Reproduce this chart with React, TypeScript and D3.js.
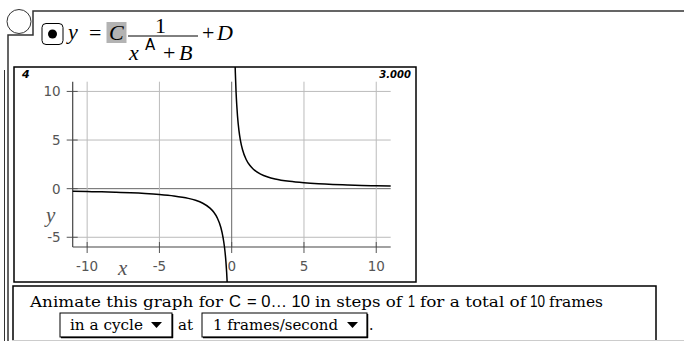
import React from "react";
import * as d3 from "d3";

// values
const xTicks = [-10, -5, 0, 5, 10];
const yTicks = [-5, 0, 5, 10];
const xDomain = [-11, 11];
const yDomain = [-6, 11];
const frameLabel = "4";
const cLabel = "3.000";

// curve samples, read from the plotted branches
const leftX = [-11, -10, -9, -8, -7, -6, -5, -4, -3, -2.5, -2, -1.5, -1.25, -1, -0.75, -0.6, -0.5, -0.4, -0.35, -0.3, -0.28];
const leftY = [-0.27, -0.3, -0.33, -0.38, -0.43, -0.5, -0.6, -0.75, -1, -1.2, -1.5, -2, -2.4, -3, -4, -5, -6, -7.5, -8.6, -10, -10.7];
const rightX = [0.22, 0.25, 0.3, 0.35, 0.4, 0.5, 0.6, 0.75, 1, 1.25, 1.5, 2, 2.5, 3, 4, 5, 6, 7, 8, 9, 10, 11];
const rightY = [13.6, 12, 10, 8.6, 7.5, 6, 5, 4, 3, 2.4, 2, 1.5, 1.2, 1, 0.75, 0.6, 0.5, 0.43, 0.38, 0.33, 0.3, 0.27];

const W = 684;
const H = 341;
const frame = { x: 14, y: 67, w: 402, h: 215 };
const plot = { left: 72.7, right: 390.7, top: 81.7, bottom: 247 };

const serif = "'Liberation Serif', 'DejaVu Serif', serif";
const wideSerif = "'DejaVu Serif', 'Liberation Serif', serif";
const sans = "'DejaVu Sans', 'Liberation Sans', sans-serif";
const narrowSans = "'Liberation Sans', 'DejaVu Sans', sans-serif";

function Arrow({ x, y }: { x: number; y: number }) {
  return <path d={`M${x},${y} L${x + 11},${y} L${x + 5.5},${y + 6} Z`} fill="#000" />;
}

function DropBox({ x, y, w, h }: { x: number; y: number; w: number; h: number }) {
  return (
    <g>
      <rect x={x} y={y} width={w} height={h} fill="#fff" stroke="#000" strokeWidth={1} />
      <line x1={x + w + 0.5} y1={y + 1} x2={x + w + 0.5} y2={y + h + 1} stroke="#000" strokeWidth={1.5} />
      <line x1={x + 1} y1={y + h + 0.5} x2={x + w + 1} y2={y + h + 0.5} stroke="#000" strokeWidth={1.5} />
    </g>
  );
}

// text stretched to the width it has in the picture
function Fit({ x, y, w, size, family, children }: { x: number; y: number; w: number; size: number; family: string; children: React.ReactNode }) {
  return (
    <text x={x} y={y} fontFamily={family} fontSize={size} textLength={w} lengthAdjust="spacingAndGlyphs">
      {children}
    </text>
  );
}

export default function App() {
  const x = d3.scaleLinear().domain(xDomain).range([plot.left, plot.right]);
  const y = d3.scaleLinear().domain(yDomain).range([plot.bottom, plot.top]);

  const line = d3
    .line<[number, number]>()
    .x((d) => x(d[0]))
    .y((d) => y(d[1]))
    .curve(d3.curveMonotoneX);

  const leftPts = leftX.map((v, i) => [v, leftY[i]] as [number, number]);
  const rightPts = rightX.map((v, i) => [v, rightY[i]] as [number, number]);

  return (
    <svg width={W} height={H} style={{ position: "absolute", left: 0, top: 0, background: "#fff" }}>
      <defs>
        <clipPath id="frame-clip">
          <rect x={frame.x} y={frame.y} width={frame.w} height={frame.h} />
        </clipPath>
      </defs>

      {/* outer bracket lines */}
      <circle cx={19} cy={21.5} r={12} fill="none" stroke="#333" strokeWidth={1} />
      <polyline points={`${W},11 33,11 33,35 8,35 8,${H}`} fill="none" stroke="#333" strokeWidth={1.5} />
      <line x1={4.5} y1={70} x2={4.5} y2={H} stroke="#333" strokeWidth={1} />

      {/* equation header */}
      <rect x={42} y={23.5} width={21} height={21} rx={4} fill="#fff" stroke="#000" strokeWidth={1} />
      <circle cx={52.5} cy={34} r={4.5} fill="#000" />
      <rect x={106.5} y={22} width={20} height={21} fill="#b3b3b3" />
      <g fontFamily={serif} fontSize={22} fill="#000">
        <text x={68} y={39} fontStyle="italic">y</text>
        <text x={89} y={40}>=</text>
        <text x={109} y={40} fontStyle="italic">C</text>
        <text x={155} y={33}>1</text>
        <line x1={128} y1={36} x2={198} y2={36} stroke="#000" strokeWidth={1} />
        <text x={129} y={60} fontStyle="italic">x</text>
        <text x={145} y={50} fontSize={15} fontFamily={sans}>A</text>
        <text x={163} y={60}>+</text>
        <text x={179} y={60} fontStyle="italic">B</text>
        <text x={202} y={40}>+</text>
        <text x={217} y={40} fontStyle="italic">D</text>
      </g>

      {/* graph frame */}
      <rect x={frame.x} y={frame.y} width={frame.w} height={frame.h} fill="#fff" stroke="#000" strokeWidth={1.5} />
      <text x={frame.x + 8} y={frame.y + 11} fontFamily={sans} fontSize={11} fontWeight="bold" fontStyle="italic">
        {frameLabel}
      </text>
      <text x={frame.x + frame.w - 5} y={frame.y + 11} textAnchor="end" fontFamily={sans} fontSize={10} fontWeight="bold" fontStyle="italic">
        {cLabel}
      </text>

      {/* grid */}
      {yTicks.map((t) => (
        <g key={"gy" + t}>
          <line x1={plot.left} x2={plot.right} y1={y(t)} y2={y(t)} stroke={t === 0 ? "#666" : "#bbb"} strokeWidth={1} />
          <line x1={plot.left - 6} x2={plot.left + 5} y1={y(t)} y2={y(t)} stroke="#555" strokeWidth={1} />
          <text x={plot.left - 12} y={y(t) + 5} textAnchor="end" fontFamily={sans} fontSize={13.5} fill="#555">
            {t}
          </text>
        </g>
      ))}
      {xTicks.map((t) => (
        <g key={"gx" + t}>
          <line x1={x(t)} x2={x(t)} y1={plot.top} y2={plot.bottom} stroke={t === 0 ? "#666" : "#bbb"} strokeWidth={1} />
          <line x1={x(t)} x2={x(t)} y1={plot.bottom - 5} y2={plot.bottom + 6} stroke="#555" strokeWidth={1} />
          <text x={x(t)} y={plot.bottom + 24} textAnchor="middle" fontFamily={sans} fontSize={13.5} fill="#555">
            {t}
          </text>
        </g>
      ))}
      <line x1={plot.left} x2={plot.left} y1={plot.top} y2={plot.bottom} stroke="#444" strokeWidth={1.2} />
      <line x1={plot.left} x2={plot.right} y1={plot.bottom} y2={plot.bottom} stroke="#444" strokeWidth={1.2} />
      <text x={46} y={222} fontFamily={serif} fontSize={21} fontStyle="italic" fill="#555">y</text>
      <text x={118} y={275} fontFamily={serif} fontSize={21} fontStyle="italic" fill="#555">x</text>

      {/* curve */}
      <g clipPath="url(#frame-clip)">
        <path d={line(leftPts) || ""} fill="none" stroke="#000" strokeWidth={1.5} />
        <path d={line(rightPts) || ""} fill="none" stroke="#000" strokeWidth={1.5} />
      </g>

      {/* animation box */}
      <rect x={13} y={286} width={643} height={70} fill="none" stroke="#000" strokeWidth={1.5} />
      <line x1={12} y1={340.5} x2={W} y2={340.5} stroke="#ccc" strokeWidth={1} />
      <g fill="#000">
        <Fit x={30} y={307} w={193} size={15} family={wideSerif}>Animate this graph for</Fit>
        <Fit x={229} y={307} w={12} size={17} family={narrowSans}>C</Fit>
        <Fit x={247} y={307} w={63} size={17} family={narrowSans}>= 0… 10</Fit>
        <Fit x={315} y={307} w={87} size={15} family={wideSerif}>in steps of</Fit>
        <Fit x={408} y={307} w={7} size={17} family={narrowSans}>1</Fit>
        <Fit x={420} y={307} w={106} size={15} family={wideSerif}>for a total of</Fit>
        <Fit x={530} y={307} w={15} size={17} family={narrowSans}>10</Fit>
        <Fit x={549} y={307} w={54} size={15} family={wideSerif}>frames</Fit>
      </g>
      <DropBox x={60} y={313} w={112} h={24} />
      <DropBox x={202} y={313} w={165} h={24} />
      <g fill="#000">
        <Fit x={70} y={330} w={73} size={14.5} family={wideSerif}>in a cycle</Fit>
        <Fit x={178} y={330} w={15} size={14.5} family={wideSerif}>at</Fit>
        <Fit x={213} y={330} w={125} size={14.5} family={wideSerif}>1 frames/second</Fit>
        <text x={369} y={330} fontFamily={wideSerif} fontSize={14}>.</text>
      </g>
      <Arrow x={151} y={322} />
      <Arrow x={347} y={322} />
    </svg>
  );
}
